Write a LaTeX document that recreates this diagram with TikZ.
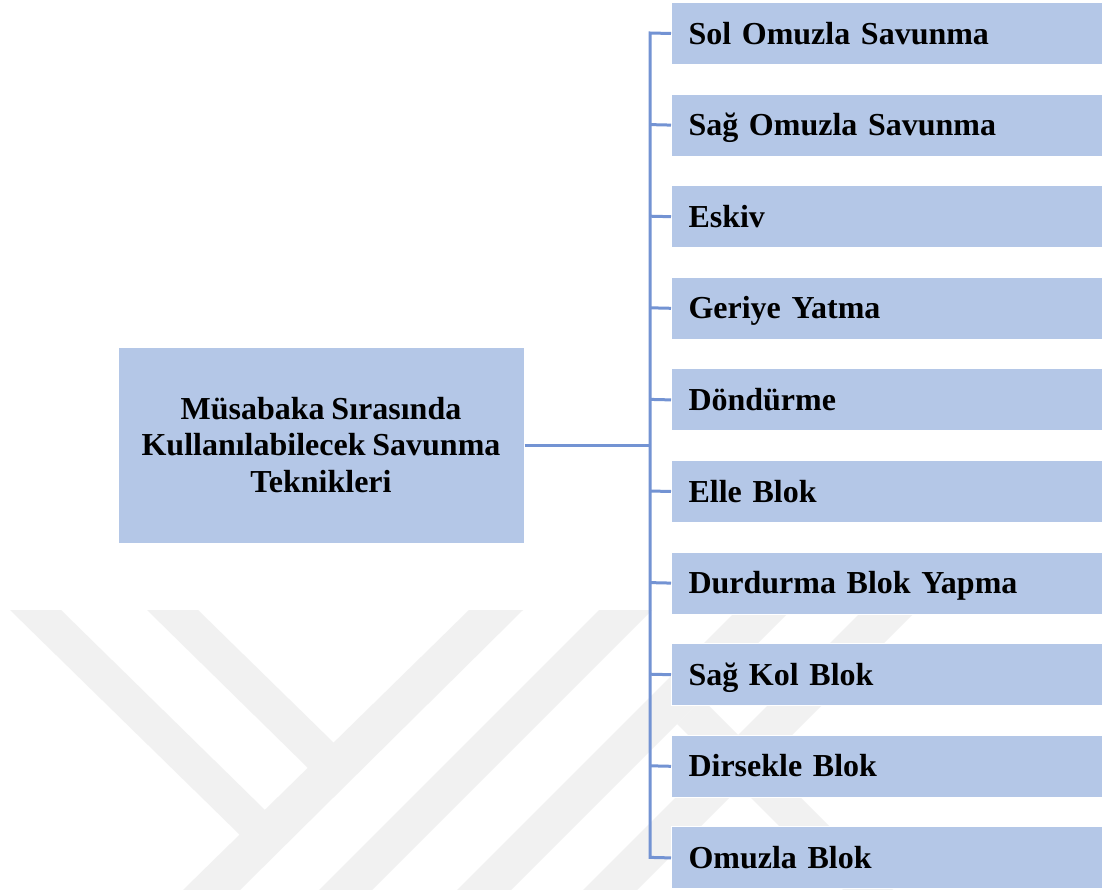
\documentclass[tikz,border=0pt]{standalone}
\usepackage{fontspec}
\setmainfont[WordSpace=0.85]{Liberation Serif}
\definecolor{boxblue}{HTML}{B4C7E7}
\definecolor{linkblue}{HTML}{7393D3}
\definecolor{wmgray}{HTML}{F1F1F1}
\begin{document}
\begin{tikzpicture}[x=1pt,y=-1pt,
  wm/.style={fill=wmgray},
  mainbox/.style={draw=white,line width=1pt,fill=boxblue,minimum width=406pt,minimum height=196pt,
    align=center,font=\bfseries\fontsize{32}{36.5}\selectfont,inner sep=0pt},
  itembox/.style={draw=white,line width=1pt,fill=boxblue,anchor=north west,minimum width=431pt,minimum height=62pt,
    inner xsep=17pt,inner ysep=0pt,text width=397pt,align=left,text height=21.2pt,text depth=0pt,
    font=\bfseries\fontsize{32}{36.5}\selectfont},
  link/.style={draw=linkblue,line width=3pt}]
\useasboundingbox (0,0) rectangle (1105,890);
\fill[white] (0,0) rectangle (1105,890);
% watermark
\fill[wm] (10,610) -- (61,610) -- (265,810) -- (240,835) -- cycle;
\fill[wm] (147,610) -- (198,610) -- (334,743) -- (308,768) -- cycle;
\fill[wm] (183,890) -- (240,890) -- (523,610) -- (469,610) -- cycle;
\fill[wm] (319,890) -- (372,890) -- (652,610) -- (599,610) -- cycle;
\fill[wm] (457,890) -- (511,890) -- (791,610) -- (737,610) -- cycle;
\fill[wm] (583,890) -- (637,890) -- (917,610) -- (863,610) -- cycle;
\fill[wm] (677,724) -- (702,699) -- (893,890) -- (843,890) -- cycle;
% main box
\node[mainbox] (m) at (321,445) {Müsabaka Sırasında\\Kullanılabilecek Savunma\\Teknikleri};
% item boxes
\foreach \t [count=\i] in {Sol Omuzla Savunma,Sağ Omuzla Savunma,Eskiv,Geriye Yatma,Döndürme,Elle Blok,Durdurma Blok Yapma,Sağ Kol Blok,Dirsekle Blok,Omuzla Blok}{
  \node[itembox] (r\i) at (671,{2+91.6*(\i-1)}) {\t};
  \coordinate (b\i) at (650,{33+91.6*(\i-1)});
}
\coordinate (bm) at (650,445);
% connectors
\draw[link] (r1.west) -- (b1) -- (b10) -- (r10.west);
\foreach \i in {2,...,9}{\draw[link] (b\i) -- (r\i.west);}
\draw[link] (m.east) -- (bm);
\end{tikzpicture}
\end{document}
